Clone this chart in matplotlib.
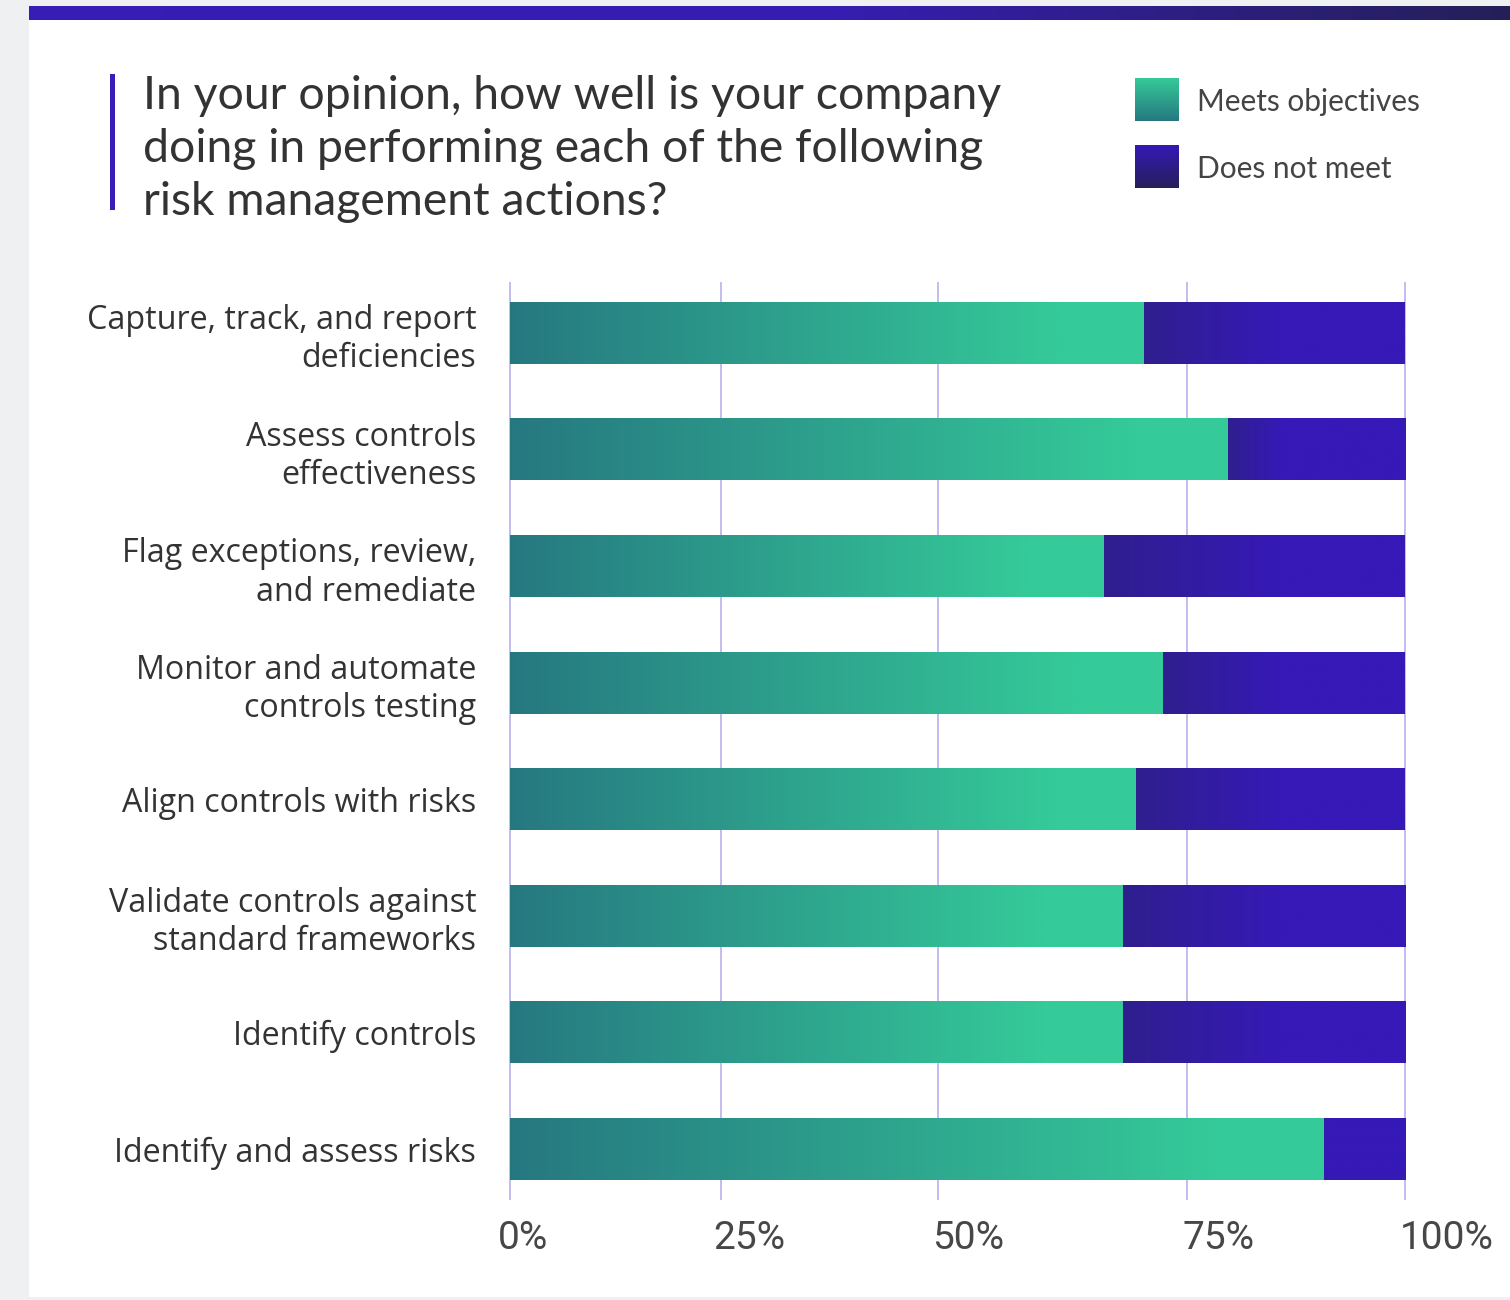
import numpy as np
import matplotlib
matplotlib.use("Agg")
import matplotlib.pyplot as plt
from matplotlib.colors import to_rgb
from matplotlib.patches import Rectangle

# ---- data -------------------------------------------------------------
categories = [
    "Capture, track, and report\ndeficiencies",
    "Assess controls\neffectiveness",
    "Flag exceptions, review,\nand remediate",
    "Monitor and automate\ncontrols testing",
    "Align controls with risks",
    "Validate controls against\nstandard frameworks",
    "Identify controls",
    "Identify and assess risks",
]
meets = [70.9, 80.2, 66.4, 73.0, 70.0, 68.5, 68.5, 90.9]
does_not_meet = [29.1, 19.8, 33.6, 27.0, 30.0, 31.5, 31.5, 9.1]
tick_labels = ["0%", "25%", "50%", "75%", "100%"]
grid_positions = [0, 23.6, 47.85, 75.66, 100]
series_names = ["Meets objectives", "Does not meet"]
title_lines = [
    "In your opinion, how well is your company",
    "doing in performing each of the following",
    "risk management actions?",
]

# ---- style --------------------------------------------------------------
GREEN_DARK, GREEN_LIGHT = "#267880", "#35CA99"
PURPLE_DARK, PURPLE_LIGHT = "#2F1F8E", "#3619B6"
PURPLE_NAVY = "#241F5A"
GRID = "#B9B0F0"
TEXT = "#333333"
PAGE_GRAY = "#EFF0F2"
TITLE_FONT = ["Lato", "DejaVu Sans"]
LABEL_FONT = ["Open Sans", "DejaVu Sans"]
TICK_FONT = ["Liberation Sans Narrow", "Roboto", "DejaVu Sans"]
PURPLE_RAMP_END = 86.0  # x position (in %) where the purple ramp is fully bright


def ramp(c0, c1, n=256, frac=1.0, vertical=False):
    """Colour ramp from c0 to c1 over the first `frac` of its length."""
    t = np.clip(np.linspace(0, 1, n) / max(frac, 1e-6), 0, 1)[:, None]
    a, b = np.array(to_rgb(c0)), np.array(to_rgb(c1))
    rgb = a + (b - a) * t
    return rgb[:, None, :] if vertical else rgb[None, :, :]


W, H = 1510, 1300
fig = plt.figure(figsize=(W / 100, H / 100), dpi=100, facecolor="white")

# page decorations, in pixel coordinates
deco = fig.add_axes([0, 0, 1, 1], zorder=0)
deco.set_xlim(0, W)
deco.set_ylim(H, 0)
deco.axis("off")
deco.add_patch(Rectangle((0, 0), 29, H, color=PAGE_GRAY, lw=0))
deco.add_patch(Rectangle((0, 0), W, 6, color=PAGE_GRAY, lw=0))
deco.add_patch(Rectangle((0, 1297), W, 3, color=PAGE_GRAY, lw=0))
band = np.concatenate([ramp("#381CB6", "#361DB0", 140), ramp("#361DB0", "#252058", 116)], axis=1)
deco.imshow(band, extent=(29, W, 20, 6), aspect="auto", interpolation="bilinear")
deco.add_patch(Rectangle((110, 74), 5, 136, color="#3A1DB8", lw=0))

for i, line in enumerate(title_lines):
    deco.text(143, 109 + 53 * i, line, fontsize=33.4, family=TITLE_FONT,
              color=TEXT, va="baseline", ha="left")

# legend
legend_swatches = [ramp(GREEN_LIGHT, GREEN_DARK, vertical=True),
                   ramp(PURPLE_LIGHT, PURPLE_NAVY, vertical=True)]
for k, (name, sw) in enumerate(zip(series_names, legend_swatches)):
    top = 78 + 67 * k
    deco.imshow(sw, extent=(1135, 1179, top + 43, top), aspect="auto",
                interpolation="bilinear")
    deco.text(1197, top + 24, name, fontsize=21.5, family=TITLE_FONT,
              color="#444444", va="center", ha="left")
deco.set_xlim(0, W)
deco.set_ylim(H, 0)

# ---- main chart ---------------------------------------------------------
ax = fig.add_axes([509.5 / W, 1 - 1200 / H, 895.5 / W, 918 / H], zorder=1)
ax.set_facecolor("none")

bar_h = 0.53
n = len(categories)
for i in range(n):
    m, d = meets[i], does_not_meet[i]
    ax.imshow(ramp(GREEN_DARK, GREEN_LIGHT, frac=0.87),
              extent=(0, m, i + bar_h / 2, i - bar_h / 2),
              aspect="auto", interpolation="bilinear", zorder=2)
    ax.imshow(ramp(PURPLE_DARK, PURPLE_LIGHT, frac=(PURPLE_RAMP_END - m) / d),
              extent=(m, m + d, i + bar_h / 2, i - bar_h / 2),
              aspect="auto", interpolation="bilinear", zorder=2)

ax.vlines(grid_positions, -0.437, n - 0.564, colors=GRID, lw=1.2,
          zorder=1, clip_on=False)

ax.set_xlim(0, 100)
ax.set_ylim(n - 0.564, -0.437)
for s in ax.spines.values():
    s.set_visible(False)

ax.set_yticks(range(n))
ax.set_yticklabels(categories, fontsize=23.2, family=LABEL_FONT, color=TEXT,
                   linespacing=1.22)
ax.tick_params(axis="y", length=0, pad=24)
ax.set_xticks([])

tick_shift = [-12, -8, -6, -5, -5]
for pos, lab, dx in zip(grid_positions, tick_labels, tick_shift):
    ax.annotate(lab, xy=(pos, 0), xycoords=("data", "axes fraction"),
                xytext=(dx, -20), textcoords="offset pixels",
                ha="left", va="top", fontsize=28, family=TICK_FONT,
                color="#474747", annotation_clip=False)

fig.savefig("out.png", dpi=100, facecolor="white")
